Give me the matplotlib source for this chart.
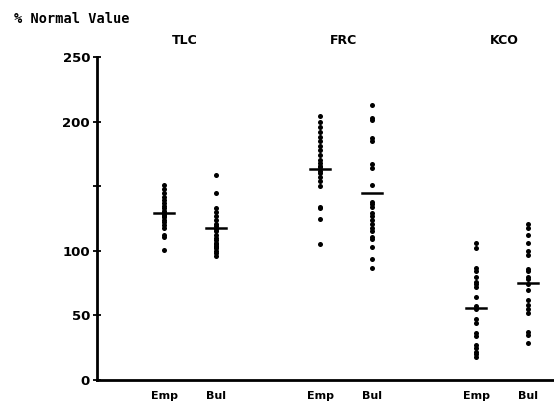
import matplotlib
matplotlib.use("Agg")
import matplotlib.pyplot as plt

# Data (% normal value)
tlc_emp = [151, 148, 145, 142, 139, 137, 135, 133, 131, 130, 129, 128, 127, 126, 124, 122, 120, 118, 112, 111, 101]
tlc_bul = [159, 145, 133, 130, 127, 124, 121, 119, 117, 115, 112, 110, 108, 106, 105, 104, 103, 102, 100, 98, 96]
frc_emp = [204, 200, 196, 192, 188, 185, 181, 178, 174, 170, 168, 166, 165, 162, 160, 157, 154, 150, 134, 133, 125, 105]
frc_bul = [213, 203, 201, 187, 185, 167, 164, 151, 138, 136, 134, 129, 127, 124, 121, 118, 115, 111, 109, 103, 94, 87]
kco_emp = [106, 102, 87, 84, 80, 76, 74, 72, 64, 57, 55, 47, 44, 36, 34, 27, 25, 22, 20, 18]
kco_bul = [121, 118, 112, 106, 100, 97, 86, 84, 80, 78, 74, 70, 62, 58, 55, 52, 37, 35, 29]
means = [129, 118, 163, 145, 56, 75]

series = [tlc_emp, tlc_bul, frc_emp, frc_bul, kco_emp, kco_bul]
positions = [0, 1, 3, 4, 6, 7]
tick_labels = ["Emp", "Bul", "Emp", "Bul", "Emp", "Bul"]
groups = ["TLC", "FRC", "KCO"]
group_pos = [0.4, 3.45, 6.55]
yticks = [0, 50, 100, 150, 200, 250]
ytick_labels = ["0", "50", "100", "", "200", "250"]

fig = plt.figure(figsize=(5.54, 4.05), dpi=100)
ax = fig.add_axes([97/554, 1 - 380/405, (554 - 97)/554, (380 - 57)/405])

for x, vals, m in zip(positions, series, means):
    ax.scatter([x] * len(vals), vals, s=13, color="black", zorder=3, linewidths=0)
    ax.plot([x - 0.19, x + 0.19], [m, m], color="black", lw=1.8, zorder=4)

ax.set_xlim(-1.29, 7.5)
ax.set_ylim(0, 250)
ax.set_yticks(yticks)
ax.set_yticklabels(ytick_labels, fontsize=9.5, fontweight="bold")
ax.set_xticks(positions)
ax.set_xticklabels(tick_labels, fontsize=8, fontweight="bold")
ax.tick_params(axis="x", length=0, pad=8)
ax.tick_params(axis="y", direction="inout", length=6, width=1.3, pad=2)

for s in ["top", "right"]:
    ax.spines[s].set_visible(False)
for s in ["left", "bottom"]:
    ax.spines[s].set_linewidth(2)

for g, gp in zip(groups, group_pos):
    ax.text(gp, 258, g, ha="center", va="bottom", fontsize=9, fontweight="bold")

fig.text(14/554, 1 - 19/405, "% Normal Value", ha="left", va="center",
         fontsize=9.8, fontweight="bold", family="DejaVu Sans Mono")

fig.savefig("out.png", dpi=100)
